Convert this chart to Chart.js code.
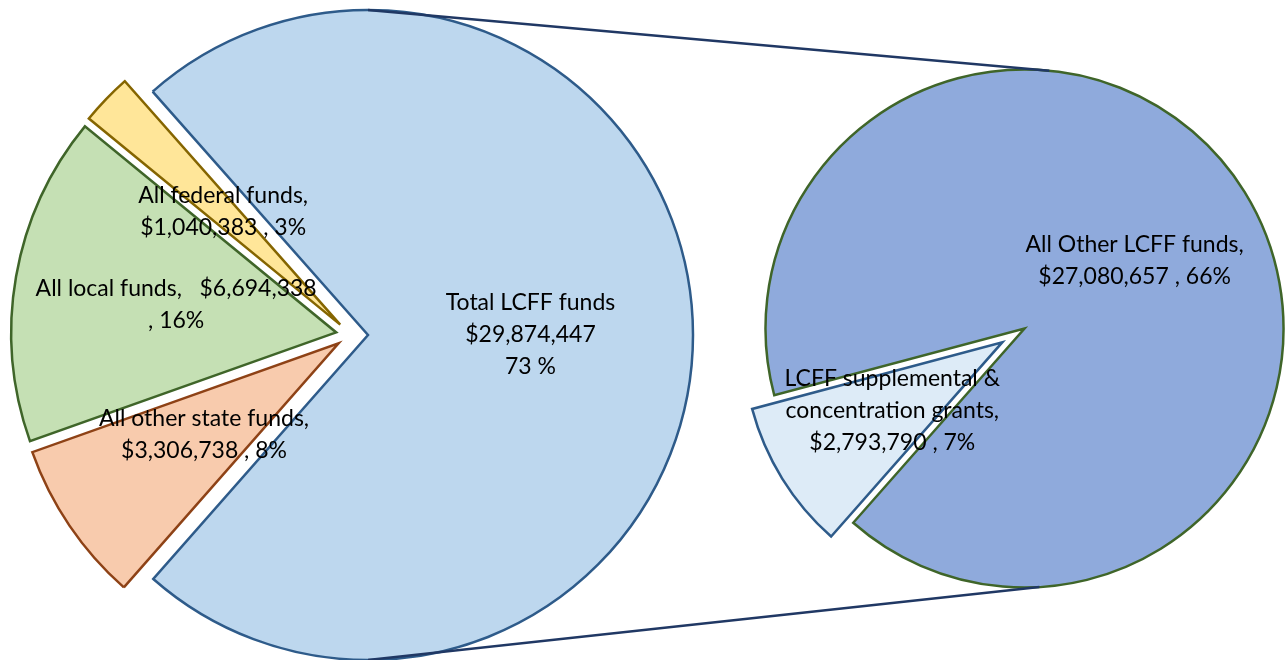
<!DOCTYPE html>
<html>
<head>
<meta charset="utf-8">
<script src="https://cdn.jsdelivr.net/npm/chart.js@4.4.1/dist/chart.umd.min.js"></script>
<style>
  html, body { margin: 0; padding: 0; background: #fff; overflow: hidden; }
  canvas { position: absolute; left: 0; top: 0; }
</style>
</head>
<body>
<canvas id="mainPie" width="1285" height="660"></canvas>
<canvas id="subPie" width="1285" height="660"></canvas>
<script>
// main pie (all funds), order goes clockwise from the top-left edge of the LCFF slice
var mainNames = ['Total LCFF funds', 'All other state funds', 'All local funds', 'All federal funds'];
var mainValues = [29874447, 3306738, 6694338, 1040383];
var mainFill = ['#BDD7EE', '#F8CBAD', '#C5E0B4', '#FFE699'];
var mainLine = ['#2E5B8A', '#8E4216', '#3F6529', '#856500'];

// secondary pie (split of Total LCFF funds)
var subNames = ['LCFF supplemental & concentration grants', 'All Other LCFF funds'];
var subValues = [2793790, 27080657];
var subFill = ['#DDEBF7', '#8FAADC'];
var subLine = ['#2E5B8A', '#3F6529'];

var grandTotal = mainValues.reduce(function (a, b) { return a + b; }, 0);

function money(v) { return '$' + v.toLocaleString('en-US'); }
function pct(v) { return Math.round(v / grandTotal * 100); }

var mainLabels = [
  ['Total LCFF funds', money(mainValues[0]), pct(mainValues[0]) + ' %'],
  ['All other state funds,', money(mainValues[1]) + ' , ' + pct(mainValues[1]) + '%'],
  ['All local funds,   ' + money(mainValues[2]), ', ' + pct(mainValues[2]) + '%'],
  ['All federal funds,', money(mainValues[3]) + ' , ' + pct(mainValues[3]) + '%']
];
var subLabels = [
  ['LCFF supplemental &', 'concentration grants,', money(subValues[0]) + ' , ' + pct(subValues[0]) + '%'],
  ['All Other LCFF funds,', money(subValues[1]) + ' , ' + pct(subValues[1]) + '%']
];

// how far each slice is pulled out, in pixels
var mainExplode = [17, 15, 15, 15];
var subExplode = [26, 0];

// draw each arc shifted along its middle angle (keeps the radius the same for all slices)
var explodeSlices = {
  id: 'explodeSlices',
  beforeDatasetDraw: function (chart, args, opts) {
    var ctx = chart.ctx;
    args.meta.data.forEach(function (arc, i) {
      var mid = (arc.startAngle + arc.endAngle) / 2;
      ctx.save();
      ctx.translate(Math.cos(mid) * opts.px[i], Math.sin(mid) * opts.px[i]);
      arc.draw(ctx, chart.chartArea);
      ctx.restore();
    });
    return false;
  }
};

var sliceLabels = {
  id: 'sliceLabels',
  afterDatasetsDraw: function (chart, args, opts) {
    var ctx = chart.ctx;
    var meta = chart.getDatasetMeta(0);
    ctx.save();
    ctx.font = '23px Lato';
    ctx.fillStyle = '#000';
    ctx.textAlign = 'center';
    ctx.textBaseline = 'middle';
    meta.data.forEach(function (arc, i) {
      var lines = opts.lines[i];
      var mid = (arc.startAngle + arc.endAngle) / 2;
      var d = opts.explode[i] + arc.outerRadius * 0.5;
      var x = arc.x + Math.cos(mid) * d;
      var y = arc.y + Math.sin(mid) * d;
      lines.forEach(function (t, k) {
        ctx.fillText(t, x, y + (k - (lines.length - 1) / 2) * 32);
      });
    });
    ctx.restore();
  }
};

var mainChart = new Chart(document.getElementById('mainPie'), {
  type: 'pie',
  data: {
    labels: mainNames,
    datasets: [{
      data: mainValues,
      backgroundColor: mainFill,
      borderColor: mainLine,
      borderWidth: 2.5,
      borderJoinStyle: 'miter'
    }]
  },
  options: {
    responsive: false,
    animation: false,
    events: [],
    radius: 325,
    rotation: -41.5,
    layout: { padding: { left: 0, top: 10, right: 1285 - 702, bottom: 0 } },
    plugins: {
      legend: { display: false },
      tooltip: { enabled: false },
      explodeSlices: { px: mainExplode },
      sliceLabels: { lines: mainLabels, explode: mainExplode }
    }
  },
  plugins: [explodeSlices, sliceLabels]
});

// the two series lines joining the LCFF slice to the secondary pie
var seriesLines = {
  id: 'seriesLines',
  afterDatasetsDraw: function (chart) {
    var big = mainChart.getDatasetMeta(0).data[0];
    var mid = (big.startAngle + big.endAngle) / 2;
    var bx = big.x + Math.cos(mid) * mainExplode[0];
    var by = big.y + Math.sin(mid) * mainExplode[0];
    var br = big.outerRadius;
    var s = chart.getDatasetMeta(0).data[1];
    var sr = s.outerRadius;
    var topA = -84.5 * Math.PI / 180, botA = 86.7 * Math.PI / 180;
    var ctx = chart.ctx;
    ctx.save();
    ctx.strokeStyle = '#203864';
    ctx.lineWidth = 2.5;
    ctx.beginPath();
    ctx.moveTo(bx, by - br);
    ctx.lineTo(s.x + Math.cos(topA) * sr, s.y + Math.sin(topA) * sr);
    ctx.moveTo(bx, by + br);
    ctx.lineTo(s.x + Math.cos(botA) * sr, s.y + Math.sin(botA) * sr);
    ctx.stroke();
    ctx.restore();
  }
};

var subChart = new Chart(document.getElementById('subPie'), {
  type: 'pie',
  data: {
    labels: subNames,
    datasets: [{
      data: subValues,
      backgroundColor: subFill,
      borderColor: subLine,
      borderWidth: 2.5,
      borderJoinStyle: 'miter'
    }]
  },
  options: {
    responsive: false,
    animation: false,
    events: [],
    radius: 259,
    rotation: 221.4,
    layout: { padding: { left: 764, top: 0, right: 0, bottom: 3 } },
    plugins: {
      legend: { display: false },
      tooltip: { enabled: false },
      explodeSlices: { px: subExplode },
      sliceLabels: { lines: subLabels, explode: subExplode }
    }
  },
  plugins: [explodeSlices, seriesLines, sliceLabels]
});
</script>
</body>
</html>
